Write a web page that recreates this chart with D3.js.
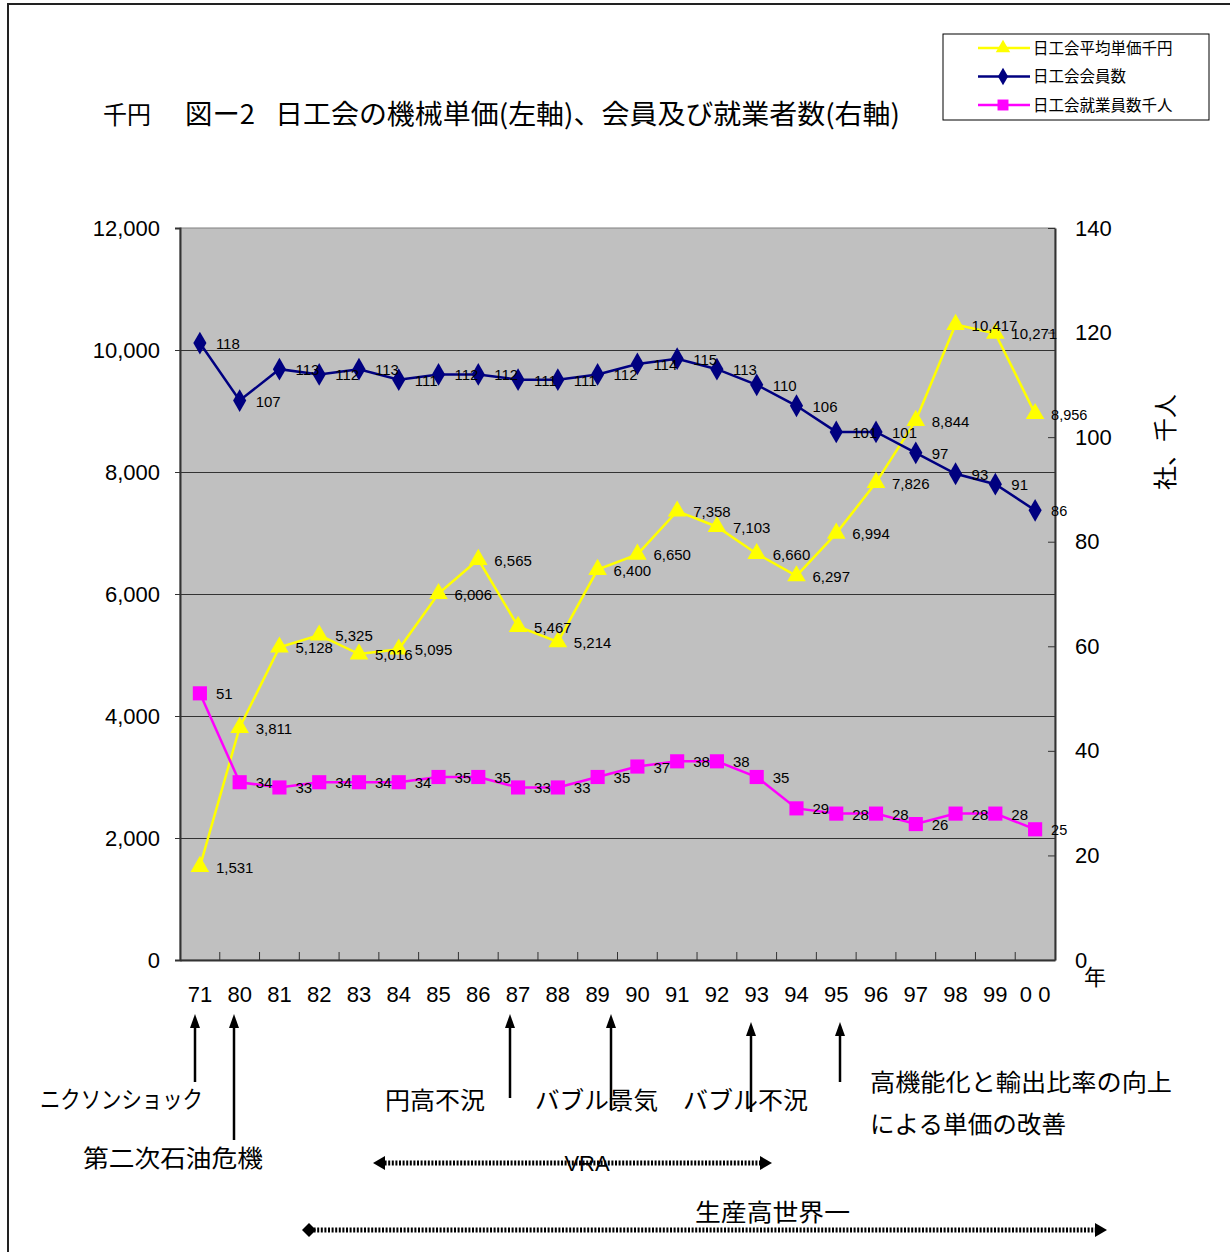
<!DOCTYPE html>
<html>
<head>
<meta charset="utf-8">
<script src="https://cdn.jsdelivr.net/npm/d3@7"></script>
<style>
body { margin: 0; background: #fff; }
svg { display: block; }
.num { font-family: "Liberation Sans", Arial, sans-serif; }
.jp { font-family: "Noto Sans CJK JP", sans-serif; }
</style>
</head>
<body>
<div id="chart"></div>
<script>
// years on the category axis
const years = ["71", "80", "81", "82", "83", "84", "85", "86", "87", "88", "89", "90", "91", "92", "93", "94", "95", "96", "97", "98", "99", "00"];
const yearLabels = ["71", "80", "81", "82", "83", "84", "85", "86", "87", "88", "89", "90", "91", "92", "93", "94", "95", "96", "97", "98", "99", "0 0"];

// 日工会平均単価千円 (left axis)
const unitPrice = [1531, 3811, 5128, 5325, 5016, 5095, 6006, 6565, 5467, 5214, 6400, 6650, 7358, 7103, 6660, 6297, 6994, 7826, 8844, 10417, 10271, 8956];
// 日工会会員数 (right axis)
const members = [118, 107, 113, 112, 113, 111, 112, 112, 111, 111, 112, 114, 115, 113, 110, 106, 101, 101, 97, 93, 91, 86];
// 日工会就業員数千人 (right axis)
const employees = [51, 34, 33, 34, 34, 34, 35, 35, 33, 33, 35, 37, 38, 38, 35, 29, 28, 28, 26, 28, 28, 25];

const leftTicks = [0, 2000, 4000, 6000, 8000, 10000, 12000];
const rightTicks = [0, 20, 40, 60, 80, 100, 120, 140];

const W = 1230, H = 1252;
const plot = { left: 180, right: 1055, top: 228, bottom: 960 };

const svg = d3.select("#chart").append("svg")
    .attr("width", W).attr("height", H);

// outer frame
svg.append("path")
    .attr("d", `M8,${H + 5}V4H${W + 5}`)
    .attr("fill", "none").attr("stroke", "#222").attr("stroke-width", 2);

const x = d3.scaleBand().domain(years).range([plot.left, plot.right]);
const yL = d3.scaleLinear().domain([0, 12000]).range([plot.bottom, plot.top]);
const yR = d3.scaleLinear().domain([0, 140]).range([plot.bottom, plot.top]);
const cx = d => x(d) + x.bandwidth() / 2;

// plot area
svg.append("rect")
    .attr("x", plot.left).attr("y", plot.top)
    .attr("width", plot.right - plot.left).attr("height", plot.bottom - plot.top)
    .attr("fill", "#c0c0c0").attr("stroke", "#808080").attr("stroke-width", 1);

// grid lines
svg.append("g").selectAll("line")
    .data(leftTicks.slice(1, -1))
    .join("line")
    .attr("x1", plot.left).attr("x2", plot.right)
    .attr("y1", d => yL(d) + 0.5).attr("y2", d => yL(d) + 0.5)
    .attr("stroke", "#333").attr("stroke-width", 1);

// left axis
const gl = svg.append("g")
    .attr("class", "num")
    .attr("transform", `translate(${plot.left},0)`)
    .call(d3.axisLeft(yL).tickValues(leftTicks).tickSize(5).tickPadding(15).tickFormat(d3.format(",")));
gl.selectAll("text").attr("font-size", 22).attr("fill", "#000");
gl.selectAll("line").attr("stroke", "#333");
gl.select(".domain").attr("stroke", "#333").attr("stroke-width", 2);

// right axis
const gr = svg.append("g")
    .attr("class", "num")
    .attr("transform", `translate(${plot.right},0)`)
    .call(d3.axisRight(yR).tickValues(rightTicks).tickSizeInner(-7).tickSizeOuter(0).tickPadding(20));
gr.selectAll("text").attr("font-size", 22).attr("fill", "#000");
gr.selectAll("line").attr("stroke", "#333");
gr.select(".domain").attr("stroke", "#333").attr("stroke-width", 2);

// bottom axis
const gb = svg.append("g")
    .attr("class", "num")
    .attr("transform", `translate(0,${plot.bottom})`)
    .call(d3.axisBottom(x).tickSize(0).tickPadding(26).tickFormat((d, i) => yearLabels[i]));
gb.selectAll("text").attr("font-size", 22).attr("fill", "#000");
gb.select(".domain").attr("stroke", "#333").attr("stroke-width", 2);
gb.append("g").selectAll("line")
    .data(years.slice(1))
    .join("line")
    .attr("x1", d => x(d)).attr("x2", d => x(d))
    .attr("y1", 0).attr("y2", -8)
    .attr("stroke", "#333");

// series
const series = [
    { name: "日工会平均単価千円", values: unitPrice, y: yL, color: "#ffff00", symbol: d3.symbolTriangle, size: 150, fmt: d3.format(",") },
    { name: "日工会会員数", values: members, y: yR, color: "#000080", symbol: d3.symbolDiamond, size: 150, fmt: d3.format("d") },
    { name: "日工会就業員数千人", values: employees, y: yR, color: "#ff00ff", symbol: d3.symbolSquare, size: 200, fmt: d3.format("d") }
];

const line = (s) => d3.line()
    .x((d, i) => cx(years[i]))
    .y(d => s.y(d));

series.forEach(s => {
    const g = svg.append("g");
    g.append("path")
        .attr("d", line(s)(s.values))
        .attr("fill", "none").attr("stroke", s.color).attr("stroke-width", 2.5);
    g.selectAll("path.pt")
        .data(s.values)
        .join("path")
        .attr("class", "pt")
        .attr("transform", (d, i) => `translate(${cx(years[i])},${s.y(d)})`)
        .attr("d", d3.symbol().type(s.symbol).size(s.size))
        .attr("fill", s.color);
});

// data labels
series.forEach(s => {
    svg.append("g").attr("class", "num")
        .selectAll("text")
        .data(s.values)
        .join("text")
        .attr("x", (d, i) => cx(years[i]) + 16)
        .attr("y", d => s.y(d) + 6)
        .attr("font-size", (d, i) => i === years.length - 1 ? 14.5 : 15)
        .attr("fill", "#000")
        .text(d => s.fmt(d));
});

// title
const title = svg.append("g").attr("class", "jp").attr("fill", "#000");
title.append("text").attr("x", 103).attr("y", 124).attr("font-size", 25)
    .attr("textLength", 48).attr("lengthAdjust", "spacingAndGlyphs").text("千円");
title.append("text").attr("x", 185).attr("y", 124).attr("font-size", 27)
    .attr("textLength", 70).attr("lengthAdjust", "spacingAndGlyphs").text("図ー2");
title.append("text").attr("x", 275).attr("y", 124).attr("font-size", 27)
    .attr("textLength", 625).attr("lengthAdjust", "spacingAndGlyphs").text("日工会の機械単価(左軸)、会員及び就業者数(右軸)");

// right axis title
svg.append("text").attr("class", "jp")
    .attr("transform", "translate(1174,442) rotate(-90)")
    .attr("text-anchor", "middle")
    .attr("font-size", 24).attr("fill", "#000")
    .text("社、千人");

svg.append("text").attr("class", "jp")
    .attr("x", 1095).attr("y", 985).attr("text-anchor", "middle")
    .attr("font-size", 22).attr("fill", "#000").text("年");

// legend
const lg = svg.append("g").attr("transform", "translate(943,34)");
lg.append("rect").attr("width", 266).attr("height", 86)
    .attr("fill", "#fff").attr("stroke", "#000").attr("stroke-width", 1);
series.forEach((s, i) => {
    const ly = 14 + i * 28.5;
    lg.append("line").attr("x1", 35).attr("x2", 87).attr("y1", ly).attr("y2", ly)
        .attr("stroke", s.color).attr("stroke-width", 2.5);
    lg.append("path").attr("transform", `translate(60,${ly})`)
        .attr("d", d3.symbol().type(s.symbol).size(s.size * 0.6))
        .attr("fill", s.color);
    lg.append("text").attr("class", "jp").attr("x", 90).attr("y", ly + 5.5)
        .attr("font-size", 15.5).attr("fill", "#000").text(s.name);
});

// annotations
const ann = svg.append("g").attr("class", "jp").attr("fill", "#000");
const arrow = (ax, top, bottom) => {
    ann.append("line").attr("x1", ax).attr("x2", ax).attr("y1", top + 10).attr("y2", bottom)
        .attr("stroke", "#000").attr("stroke-width", 2.5);
    ann.append("path").attr("d", `M${ax},${top}L${ax - 5},${top + 14}L${ax + 5},${top + 14}Z`);
};
arrow(195, 1014, 1082);
arrow(234, 1014, 1140);
arrow(510, 1014, 1098);
arrow(611, 1014, 1110);
arrow(751, 1022, 1112);
arrow(840, 1022, 1082);

const note = (t, tx, ty, len) => ann.append("text").attr("x", tx).attr("y", ty)
    .attr("font-size", 24).attr("textLength", len).attr("lengthAdjust", "spacingAndGlyphs").text(t);
note("ニクソンショック", 40, 1108, 163);
note("第二次石油危機", 83, 1167, 180);
note("円高不況", 385, 1109, 100);
note("バブル景気", 535, 1109, 123);
note("バブル不況", 683, 1109, 125);
note("高機能化と輸出比率の向上", 870, 1091, 302);
note("による単価の改善", 870, 1133, 196);
note("生産高世界一", 695, 1221, 155);

const span = (x1, x2, sy, leftDiamond) => {
    ann.append("line").attr("x1", x1 + 8).attr("x2", x2 - 8).attr("y1", sy).attr("y2", sy)
        .attr("stroke", "#000").attr("stroke-width", 5).attr("stroke-dasharray", "2,1.6");
    ann.append("path").attr("d", leftDiamond
        ? `M${x1},${sy}L${x1 + 7},${sy - 7}L${x1 + 14},${sy}L${x1 + 7},${sy + 7}Z`
        : `M${x1},${sy}L${x1 + 12},${sy - 7}L${x1 + 12},${sy + 7}Z`);
    ann.append("path").attr("d", `M${x2},${sy}L${x2 - 12},${sy - 7}L${x2 - 12},${sy + 7}Z`);
};
span(373, 772, 1163, false);
span(302, 1107, 1230, true);

ann.append("text").attr("class", "num").attr("x", 587).attr("y", 1171)
    .attr("text-anchor", "middle").attr("font-size", 22).text("VRA");
</script>
</body>
</html>
